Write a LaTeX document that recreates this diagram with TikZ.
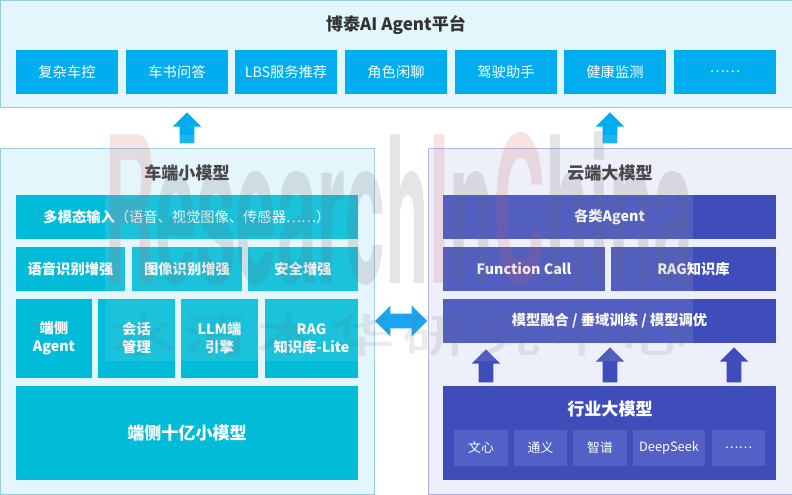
\documentclass[tikz,border=0pt]{standalone}
\usepackage{fontspec}
\usepackage{tikz}
\usetikzlibrary{shapes.arrows}
\setmainfont{Noto Sans CJK SC}
\newfontfamily\wmark{TeX Gyre Heros}
\newfontfamily\wmarkcn[LetterSpace=12]{Noto Sans CJK SC Medium}

\definecolor{skybox}{HTML}{00AEEF}
\definecolor{tealbox}{HTML}{00BCD9}
\definecolor{indigobox}{HTML}{3F4DBB}
\definecolor{indigosub}{HTML}{5361C6}
\definecolor{paleblue}{HTML}{E2F6FC}
\definecolor{palevio}{HTML}{ECEEFA}
\definecolor{titlegray}{HTML}{333333}
\definecolor{wmred}{HTML}{D65A5A}
\definecolor{wmgray}{HTML}{666666}

\tikzset{
  wd/.style={minimum width=#1*0.75pt},
  ht/.style={minimum height=#1*0.75pt},
  panelblue/.style={draw=cyan!45!teal!45,fill=paleblue,line width=0.7pt,inner sep=0pt},
  panelvio/.style={draw=indigobox!45,fill=palevio,line width=0.7pt,inner sep=0pt},
  itembox/.style={inner sep=0pt,text=white,align=center,font=\fontsize{10.7pt}{13.5pt}\selectfont},
  sky/.style={itembox,fill=skybox,ht=44},
  tealb/.style={itembox,fill=tealbox,font=\fontsize{10.7pt}{13.5pt}\selectfont\bfseries,
    execute at begin node={\vspace*{2pt}}},
  indigo/.style={itembox,fill=indigobox,font=\fontsize{10.7pt}{13.5pt}\selectfont\bfseries,
    execute at begin node={\vspace*{2pt}}},
  subitem/.style={itembox,fill=indigosub,ht=36,font=\fontsize{9.6pt}{12pt}\selectfont},
  paneltitle/.style={inner sep=0pt,text=titlegray,font=\fontsize{12.8pt}{15pt}\selectfont\bfseries},
  uparrow/.style={single arrow,shape border rotate=90,anchor=tip,inner sep=5.25pt,fill=#1,
    minimum width=21pt,single arrow head extend=5.25pt,single arrow head indent=0pt},
}

\begin{document}
\begin{tikzpicture}[x=0.75pt,y=0.75pt,yscale=-1]
\useasboundingbox (0,0) rectangle (792,495);

% Platform
\node (platform) [panelblue,wd=792,ht=107] at (396,53.5) {};
\node (platformtitle) [paneltitle] at (396,25) {博泰AI Agent平台};
\node (carctrl) [sky,wd=102] at (67,72) {复杂车控};
\node (manual) [sky,wd=102] at (177,72) {车书问答};
\node (lbs) [sky,wd=102] at (286,72) {LBS服务推荐};
\node (rolechat) [sky,wd=102] at (396,72) {角色闲聊};
\node (driver) [sky,wd=102] at (506,72) {驾驶助手};
\node (health) [sky,wd=102] at (615,72) {健康监测};
\node (moreapps) [sky,wd=102] at (725,72) {……};

% Arrows to platform
\node (upleft) [uparrow=skybox,minimum height=23.25pt] at (187,112) {};
\node (upright) [uparrow=skybox,minimum height=23.25pt] at (610,112) {};

% Vehicle side
\node (carpanel) [panelblue,wd=374,ht=346] at (187,321) {};
\node (cartitle) [paneltitle] at (187,173) {车端小模型};
\node (multimodal) [tealb,wd=342,ht=44] at (187,217) {多模态输入{\mdseries（语音、视觉图像、传感器……）}};
\node (speech) [tealb,wd=109,ht=44] at (70.5,269) {语音识别增强};
\node (image) [tealb,wd=110,ht=44] at (187,269) {图像识别增强};
\node (safety) [tealb,wd=110,ht=44] at (303,269) {安全增强};
\node (edgeagent) [tealb,wd=76,ht=79] at (54,338.5) {端侧\\Agent};
\node (session) [tealb,wd=77,ht=79] at (136.5,338.5) {会话\\管理};
\node (llm) [tealb,wd=77,ht=79] at (219.5,338.5) {LLM端\\引擎};
\node (raglite) [tealb,wd=93,ht=79] at (311.5,338.5) {RAG\\知识库-Lite};
\node (smallmodel) [tealb,wd=342,ht=94,font=\fontsize{12.8pt}{15pt}\selectfont\bfseries] at (187,433) {端侧十亿小模型};

% Cloud side
\node (cloudpanel) [panelvio,wd=364,ht=346] at (610,321) {};
\node (cloudtitle) [paneltitle] at (610,173) {云端大模型};
\node (agents) [indigo,wd=333,ht=44] at (609.5,217) {各类Agent};
\node (funcall) [indigo,wd=162,ht=44] at (524,269) {Function Call};
\node (ragbase) [indigo,wd=165,ht=44] at (693.5,269) {RAG知识库};
\node (fusion) [indigo,wd=333,ht=44] at (609.5,321) {模型融合 / 垂域训练 / 模型调优};
\node (uplarge) [uparrow=indigobox,minimum height=24.75pt] at (486,349) {};
\node (upmid) [uparrow=indigobox,minimum height=26.25pt] at (610,347) {};
\node (upend) [uparrow=indigobox,minimum height=26.25pt] at (734,347) {};
\node (largemodel) [indigo,wd=333,ht=94] at (609.5,433) {};
\node (largetitle) [paneltitle,text=white] at (610,409) {行业大模型};
\node (wenxin) [subitem,wd=54] at (481,448) {文心};
\node (tongyi) [subitem,wd=53] at (540.5,448) {通义};
\node (zhipu) [subitem,wd=54] at (600,448) {智谱};
\node (deepseek) [subitem,wd=72] at (669,448) {DeepSeek};
\node (moremodels) [subitem,wd=53] at (738.5,448) {……};

% Link between both sides
\node (link) [double arrow,inner sep=5.25pt,fill=skybox!90!blue,minimum height=39pt,minimum width=22.5pt,
  double arrow head extend=6pt,double arrow head indent=0pt] at (401,321) {};

% Watermark
\node (wmveil) [fill=white,fill opacity=0.1,wd=588,ht=226,inner sep=0pt] at (399,248) {};
\node (wmlatin) [inner sep=0pt,text opacity=0.17,text=wmgray,xscale=0.54,yscale=1.53,font=\fontsize{100pt}{100pt}\wmark\bfseries]
  at (399,209) {\textcolor{wmred}{R}esearch\textcolor{wmred}{I}n\textcolor{wmred}{C}hina};
\node (wmcn) [inner sep=0pt,text opacity=0.13,text=wmgray,yscale=0.7,font=\fontsize{49pt}{49pt}\wmarkcn] at (399,335) {水清木华研究中心};

\end{tikzpicture}
\end{document}
